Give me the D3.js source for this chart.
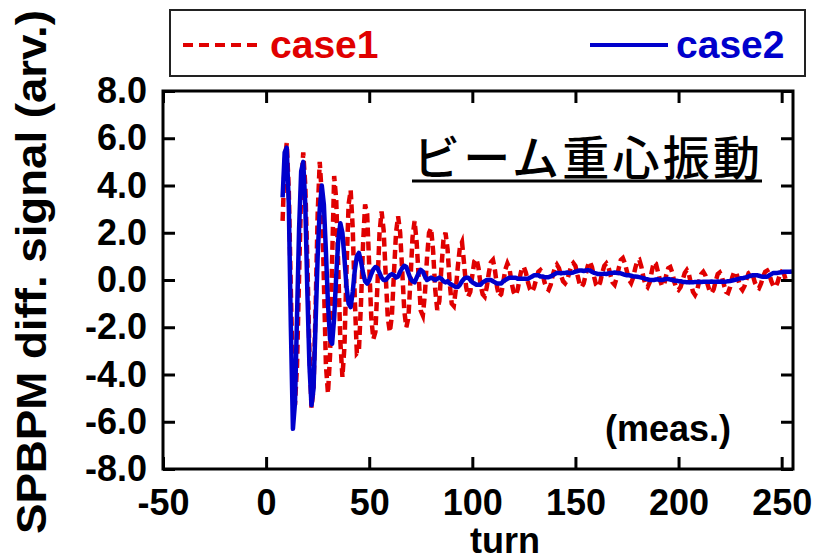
<!DOCTYPE html>
<html>
<head>
<meta charset="utf-8">
<script src="https://cdn.jsdelivr.net/npm/d3@7"></script>
<style>
  body { margin: 0; background: #fff; }
  svg text { font-family: "Liberation Sans", Arial, sans-serif; font-weight: bold; }
</style>
</head>
<body>
<svg id="chart" width="821" height="560"></svg>
<script>
// turns sampled once per turn, starting at turn 8
const startTurn = 8;

// case1 (red dashed), per turn from turn 8
const case1 = [
  2.5, 5.0, 5.8, 3.8, -0.5, -4.2, -5.3, -3.6, 0.2, 3.8,
  5.4, 4.0, 0.8, -3.0, -5.4, -4.6, -1.2, 2.8, 5.0, 3.6,
  0.0, -3.6, -4.8, -3.2, 0.8, 4.4, 3.4, 0.5, -2.6, -4.1,
  -2.8, 0.5, 3.2, 3.8, 2.2, -0.8, -3.1, -3.0, -1.0, 1.5,
  3.2, 2.8, 0.6, -1.6, -2.5, -2.2, -0.2, 2.0, 2.9, 2.1,
  0.2, -1.6, -2.2, -1.5, 0.3, 2.0, 2.7, 2.0, 0.4, -1.3,
  -2.0, -1.6, 0.0, 1.8, 2.5, 1.6, 0.1, -1.3, -1.5, -0.6,
  0.9, 2.0, 2.2, 1.2, -0.4, -1.27, -0.9, 0.5, 1.7, 2.0,
  1.3, -0.1, -1.0, -1.1, -0.4, 0.6, 1.4, 1.6, 0.7, -0.3,
  -0.7, -0.5, 0.2, 0.8, 0.9, 0.5, -0.2, -0.6, -0.7, -0.3,
  0.3, 0.75, 0.85, 0.4, -0.3, -0.7, -0.6, -0.1, 0.45, 0.7,
  0.5, -0.1, -0.5, -0.65, -0.4, 0.1, 0.5, 0.55, 0.3, -0.1,
  -0.4, -0.5, -0.3, 0.05, 0.35, 0.42, 0.3, -0.1, -0.35, -0.42,
  -0.2, 0.2, 0.5, 0.65, 0.5, 0.2, -0.05, -0.14, 0.0, 0.3,
  0.6, 0.72, 0.6, 0.2, -0.15, -0.3, -0.15, 0.25, 0.6, 0.78,
  0.55, 0.15, -0.2, -0.3, -0.1, 0.3, 0.6, 0.7, 0.55, 0.2,
  -0.1, -0.2, 0.1, 0.5, 0.85, 0.93, 0.7, 0.35, 0.0, -0.13,
  0.1, 0.5, 0.8, 0.85, 0.55, 0.1, -0.2, -0.3, -0.1, 0.35,
  0.75, 0.7, 0.35, 0.0, -0.25, -0.2, 0.2, 0.5, 0.55, 0.3,
  -0.1, -0.35, -0.42, -0.3, 0.0, 0.3, 0.42, 0.25, -0.15, -0.5,
  -0.63, -0.45, -0.05, 0.25, 0.35, 0.2, -0.15, -0.45, -0.55, -0.4,
  -0.05, 0.25, 0.32, 0.15, -0.2, -0.5, -0.55, -0.3, 0.1, 0.35,
  0.3, 0.0, -0.3, -0.42, -0.25, 0.05, 0.3, 0.35, 0.2, -0.1,
  -0.3, -0.35, -0.15, 0.15, 0.35, 0.4, 0.25, -0.05, -0.25, -0.3,
  -0.1, 0.2, 0.35, 0.3, 0.0
];

// case2 (blue solid), per turn from turn 8
const case2 = [
  3.5, 5.4, 5.6, 3.2, -2.0, -6.3, -5.2, -1.5, 2.2, 4.6,
  5.0, 3.2, -0.5, -3.6, -5.3, -4.6, -1.8, 1.0, 3.0, 4.0,
  3.2, 1.2, -1.0, -2.5, -2.7, -1.6, 0.2, 1.7, 2.4, 2.0,
  0.9, -0.3, -1.0, -1.15, -0.5, 0.4, 1.0, 1.15, 0.8, 0.3,
  -0.05, -0.15, 0.0, 0.25, 0.45, 0.55, 0.5, 0.3, 0.1, 0.0,
  0.0, 0.1, 0.2, 0.25, 0.2, 0.1, 0.15, 0.35, 0.5, 0.6,
  0.55, 0.3, 0.05, -0.05, -0.1, 0.1, 0.3, 0.43, 0.35, 0.15,
  0.0, 0.05, 0.1, 0.05, 0.0, 0.05, 0.1, 0.05, -0.05, -0.1,
  -0.05, -0.15, -0.2, -0.25, -0.3, -0.3, -0.2, -0.05, 0.05, 0.1,
  0.1, 0.0, -0.1, -0.15, -0.2, -0.2, -0.2, -0.1, -0.05, 0.0,
  0.0, 0.0, -0.05, -0.1, -0.15, -0.15, -0.15, -0.05, 0.0, 0.05,
  0.1, 0.1, 0.1, 0.1, 0.05, 0.05, 0.05, 0.05, 0.05, 0.05,
  0.1, 0.15, 0.2, 0.2, 0.2, 0.15, 0.15, 0.12, 0.12, 0.12,
  0.15, 0.2, 0.25, 0.3, 0.3, 0.28, 0.3, 0.3, 0.32, 0.3,
  0.3, 0.32, 0.35, 0.38, 0.4, 0.4, 0.38, 0.4, 0.42, 0.4,
  0.35, 0.3, 0.28, 0.25, 0.25, 0.25, 0.27, 0.25, 0.28, 0.3,
  0.3, 0.32, 0.3, 0.3, 0.28, 0.25, 0.22, 0.2, 0.2, 0.18,
  0.15, 0.15, 0.14, 0.12, 0.1, 0.08, 0.05, 0.03, 0.0, 0.0,
  0.0, 0.02, 0.03, 0.0, 0.0, 0.02, 0.04, 0.04, 0.02, 0.0,
  -0.03, -0.03, -0.05, -0.05, -0.08, -0.08, -0.1, -0.1, -0.1, -0.1,
  -0.08, -0.08, -0.07, -0.08, -0.07, -0.07, -0.07, -0.07, -0.06, -0.07,
  -0.07, -0.06, -0.07, -0.06, -0.07, -0.07, -0.05, -0.04, -0.02, 0.0,
  0.02, 0.05, 0.07, 0.07, 0.1, 0.12, 0.15, 0.18, 0.2, 0.2,
  0.2, 0.18, 0.15, 0.14, 0.14, 0.14, 0.2, 0.25, 0.3, 0.3,
  0.3, 0.32, 0.33, 0.35, 0.35, 0.35, 0.35, 0.36
];

const xTicks = [-50, 0, 50, 100, 150, 200, 250];
const yTicks = [-8, -6, -4, -2, 0, 2, 4, 6, 8];
const seriesNames = ['case1', 'case2'];
const titleText = 'ビーム重心振動';
const noteText = '(meas.)';
const xLabel = 'turn';
const yLabel = 'SPBPM diff. signal (arv.)';

const red = '#e00000';
const blue = '#0000cc';

const svg = d3.select('#chart');

const x = d3.scaleLinear().domain([-50, 255.5]).range([163, 793]);
const y = d3.scaleLinear().domain([-8, 8]).range([469, 91]);

const toPoints = (vals) => vals.map((v, i) => ({ t: startTurn + i, v }));

const line = d3.line()
  .x(d => x(d.t))
  .y(d => y(d.v));

// data lines
svg.append('path')
  .datum(toPoints(case1))
  .attr('d', line)
  .attr('fill', 'none')
  .attr('stroke', red)
  .attr('stroke-width', 4.5)
  .attr('stroke-dasharray', '9,5');

svg.append('path')
  .datum(toPoints(case2))
  .attr('d', line)
  .attr('fill', 'none')
  .attr('stroke', blue)
  .attr('stroke-width', 4.5)
  .attr('stroke-linejoin', 'round');

// axes, ticks pointing inward; plain hyphen for negatives like the original
const hyphen = f => d => f(d).replace('\u2212', '-');

const axisL = svg.append('g')
  .attr('transform', `translate(${x.range()[0]},0)`)
  .call(d3.axisLeft(y).tickValues(yTicks).tickSize(-12).tickPadding(16)
    .tickFormat(hyphen(d3.format('.1f'))));

const axisR = svg.append('g')
  .attr('transform', `translate(${x.range()[1]},0)`)
  .call(d3.axisRight(y).tickValues(yTicks).tickSize(-12).tickFormat(''));

const axisB = svg.append('g')
  .attr('transform', `translate(0,${y.range()[0]})`)
  .call(d3.axisBottom(x).tickValues(xTicks).tickSize(-12).tickPadding(20)
    .tickFormat(hyphen(d3.format('d'))));

const axisT = svg.append('g')
  .attr('transform', `translate(0,${y.range()[1]})`)
  .call(d3.axisTop(x).tickValues(xTicks).tickSize(-12).tickFormat(''));

[axisL, axisR, axisB, axisT].forEach(g => {
  g.select('.domain').remove();
  g.selectAll('.tick line').attr('stroke', '#000').attr('stroke-width', 3);
  g.selectAll('.tick text')
    .attr('fill', '#000')
    .style('font-size', '36px')
    .style('font-family', '"Liberation Sans", Arial, sans-serif')
    .style('font-weight', 'bold');
});

// frame
svg.append('rect')
  .attr('x', x.range()[0])
  .attr('y', y.range()[1])
  .attr('width', x.range()[1] - x.range()[0])
  .attr('height', y.range()[0] - y.range()[1])
  .attr('fill', 'none')
  .attr('stroke', '#000')
  .attr('stroke-width', 3);

// axis titles
svg.append('text')
  .attr('x', 505)
  .attr('y', 553)
  .attr('text-anchor', 'middle')
  .style('font-size', '36px')
  .text(xLabel);

svg.append('text')
  .attr('transform', 'translate(46,272) rotate(-90)')
  .attr('text-anchor', 'middle')
  .attr('textLength', 524)
  .attr('lengthAdjust', 'spacingAndGlyphs')
  .style('font-size', '42px')
  .text(yLabel);

// legend box
svg.append('rect')
  .attr('x', 170)
  .attr('y', 10)
  .attr('width', 635)
  .attr('height', 66)
  .attr('fill', '#fff')
  .attr('stroke', '#222')
  .attr('stroke-width', 2);

const legend = [
  { name: seriesNames[0], color: red, dash: '10,6', x0: 183, x1: 262, tx: 270 },
  { name: seriesNames[1], color: blue, dash: null, x0: 590, x1: 668, tx: 676 }
];

legend.forEach(l => {
  svg.append('line')
    .attr('x1', l.x0).attr('x2', l.x1)
    .attr('y1', 45).attr('y2', 45)
    .attr('stroke', l.color)
    .attr('stroke-width', 4)
    .attr('stroke-dasharray', l.dash);
  svg.append('text')
    .attr('x', l.tx)
    .attr('y', 58)
    .attr('fill', l.color)
    .style('font-size', '39px')
    .text(l.name);
});

// title with underline
svg.append('text')
  .attr('x', 413)
  .attr('y', 175)
  .attr('textLength', 347)
  .attr('lengthAdjust', 'spacing')
  .style('font-family', '"Noto Sans CJK JP", sans-serif')
  .style('font-weight', 500)
  .style('font-size', '47px')
  .text(titleText);

svg.append('line')
  .attr('x1', 412).attr('x2', 762)
  .attr('y1', 181).attr('y2', 181)
  .attr('stroke', '#000')
  .attr('stroke-width', 3);

svg.append('text')
  .attr('x', 605)
  .attr('y', 441)
  .style('font-size', '36px')
  .text(noteText);
</script>
</body>
</html>
